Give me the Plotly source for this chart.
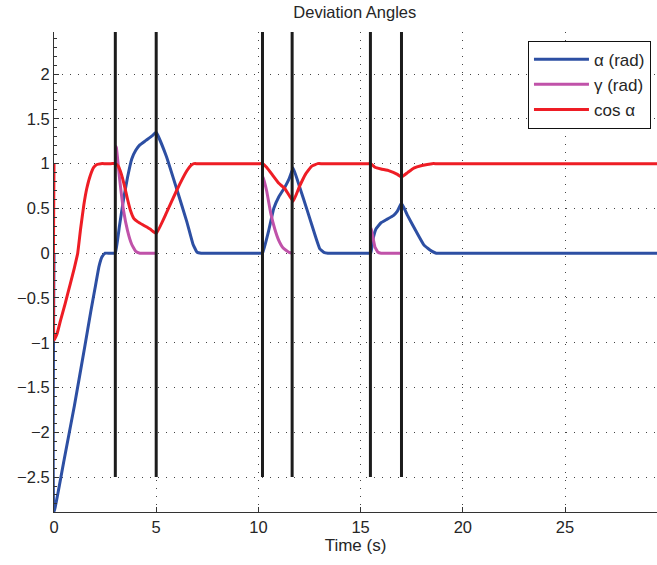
import plotly.graph_objects as go

# ---- data ----
alpha_t = [0, 0, 0.5, 1.0, 1.5, 1.8, 2.0, 2.2, 2.35, 2.5, 2.7, 2.85, 3.0, 3.2, 3.4, 3.6, 3.8, 4.0, 4.2, 4.5, 4.8, 5.0,
           5.5, 6.0, 6.5, 6.8, 7.0, 7.2, 7.5, 9.9, 10.05, 10.2, 10.5, 10.75, 11.0, 11.3, 11.5, 11.7, 12.0, 12.4,
           12.8, 13.0, 13.2, 13.4, 13.7, 15.2, 15.35, 15.5, 15.6, 15.75, 16.0, 16.3, 16.6, 16.8, 17.0, 17.3, 17.7,
           18.1, 18.5, 18.7, 18.9, 19.2, 29.5]
alpha_v = [0, -2.89, -2.3, -1.7, -1.05, -0.65, -0.4, -0.15, -0.04, 0, 0, 0, 0, 0.3, 0.6, 0.85, 1.05, 1.15, 1.21, 1.26, 1.31, 1.35,
           1.08, 0.72, 0.35, 0.1, 0.01, 0, 0, 0, 0, 0, 0.25, 0.5, 0.63, 0.74, 0.83, 0.95, 0.75, 0.47,
           0.18, 0.05, 0.01, 0, 0, 0, 0, 0, 0.15, 0.27, 0.34, 0.38, 0.42, 0.47, 0.56, 0.42, 0.25,
           0.09, 0.02, 0, 0, 0, 0]

gamma_t = [3.0, 3.05, 3.2, 3.4, 3.6, 3.8, 4.0, 4.2, 4.4, 5.0, None,
           10.2, 10.22, 10.4, 10.6, 10.8, 11.0, 11.2, 11.5, 11.7, None,
           15.5, 15.52, 15.6, 15.7, 15.85, 16.0, 16.2, 17.0]
gamma_v = [1.2, 1.18, 0.85, 0.48, 0.25, 0.1, 0.02, 0, 0, 0, None,
           0.86, 0.85, 0.7, 0.45, 0.27, 0.14, 0.06, 0.01, 0, None,
           0.28, 0.27, 0.18, 0.07, 0.01, 0, 0, 0]

cos_t = [0, 0, 0.15, 0.32, 0.55, 0.8, 1.0, 1.16, 1.3, 1.46, 1.6, 1.78, 1.95, 2.1, 2.3, 2.5, 2.8, 3.0, 3.15, 3.3, 3.45, 3.6,
         3.75, 3.9, 4.1, 4.4, 4.7, 5.0, 5.5, 6.0, 6.5, 6.7, 6.85, 7.0, 7.3, 9.9, 10.05, 10.2, 10.4, 10.7, 11.0, 11.3,
         11.7, 12.0, 12.3, 12.6, 12.9, 13.1, 13.4, 15.2, 15.35, 15.5, 15.7, 16.0, 16.4, 16.8, 17.0, 17.3, 17.6,
         18.0, 18.5, 18.7, 19.0, 29.5]
cos_v = [1, -0.97, -0.9, -0.75, -0.56, -0.34, -0.16, 0, 0.27, 0.54, 0.72, 0.87, 0.96, 0.99, 1.0, 1.0, 1.0, 1.0, 0.97, 0.88, 0.75, 0.6,
         0.47, 0.39, 0.35, 0.31, 0.27, 0.22, 0.45, 0.7, 0.92, 0.98, 1.0, 1.0, 1.0, 1.0, 1.0, 1.0, 0.96, 0.87, 0.78, 0.72,
         0.58, 0.74, 0.88, 0.97, 1.0, 1.0, 1.0, 1.0, 1.0, 1.0, 0.96, 0.94, 0.92, 0.88, 0.85, 0.9, 0.95,
         0.98, 1.0, 1.0, 1.0, 1.0]

event_times = [3.0, 5.0, 10.2, 11.65, 15.48, 17.0]
event_low, event_high = -2.5, 2.5

x_range = [0, 29.5]
y_range = [-2.89, 2.47]
x_ticks = [0, 5, 10, 15, 20, 25]
y_ticks = [-2.5, -2, -1.5, -1, -0.5, 0, 0.5, 1, 1.5, 2]

# ---- figure ----
ev_x, ev_y = [], []
for t in event_times:
    ev_x += [t, t, None]
    ev_y += [event_low, event_high, None]

spline = dict(width=3, shape="spline", smoothing=0.3)
fig = go.Figure()
fig.add_trace(go.Scatter(x=alpha_t, y=alpha_v, mode="lines", name="α (rad)",
                         line=dict(color="#2d4fa3", **spline)))
fig.add_trace(go.Scatter(x=gamma_t, y=gamma_v, mode="lines", name="γ (rad)",
                         line=dict(color="#c052a9", **spline)))
fig.add_trace(go.Scatter(x=cos_t, y=cos_v, mode="lines", name="cos α",
                         line=dict(color="#ee1d25", **spline)))
fig.add_trace(go.Scatter(x=ev_x, y=ev_y, mode="lines", showlegend=False,
                         line=dict(color="#1c1c1c", width=3), hoverinfo="skip"))

font_family = "Liberation Sans, Arial, sans-serif"
grid_common = dict(showgrid=True, gridcolor="#444444", gridwidth=1, griddash="1px,7px",
                   zeroline=False, showline=True, linecolor="#333333", linewidth=1,
                   ticks="inside", ticklen=5, tickcolor="#333333", mirror=False,
                   tickfont=dict(size=16.5, color="#262626"))

fig.update_layout(
    width=657, height=565,
    margin=dict(l=54, r=0, t=32, b=53),
    paper_bgcolor="white", plot_bgcolor="white",
    font=dict(family=font_family, size=16, color="#262626"),
    title=dict(text="Deviation Angles", x=0.54, xanchor="center", y=0.978, yanchor="middle",
               font=dict(size=16.5, color="#262626")),
    showlegend=True,
    legend=dict(x=0.99, y=0.982, xanchor="right", yanchor="top",
                bgcolor="white", bordercolor="#111111", borderwidth=1,
                itemwidth=55, tracegroupgap=0,
                font=dict(size=17, color="#262626")),
    xaxis=dict(range=x_range, tickvals=x_ticks,
               title=dict(text="Time (s)", standoff=2, font=dict(size=17)),
               **grid_common),
    yaxis=dict(range=y_range, tickvals=y_ticks,
               minor=dict(dtick=0.1, ticks="inside", ticklen=3, tickcolor="#333333", showgrid=False),
               **grid_common),
)

fig.write_html("out.html")
